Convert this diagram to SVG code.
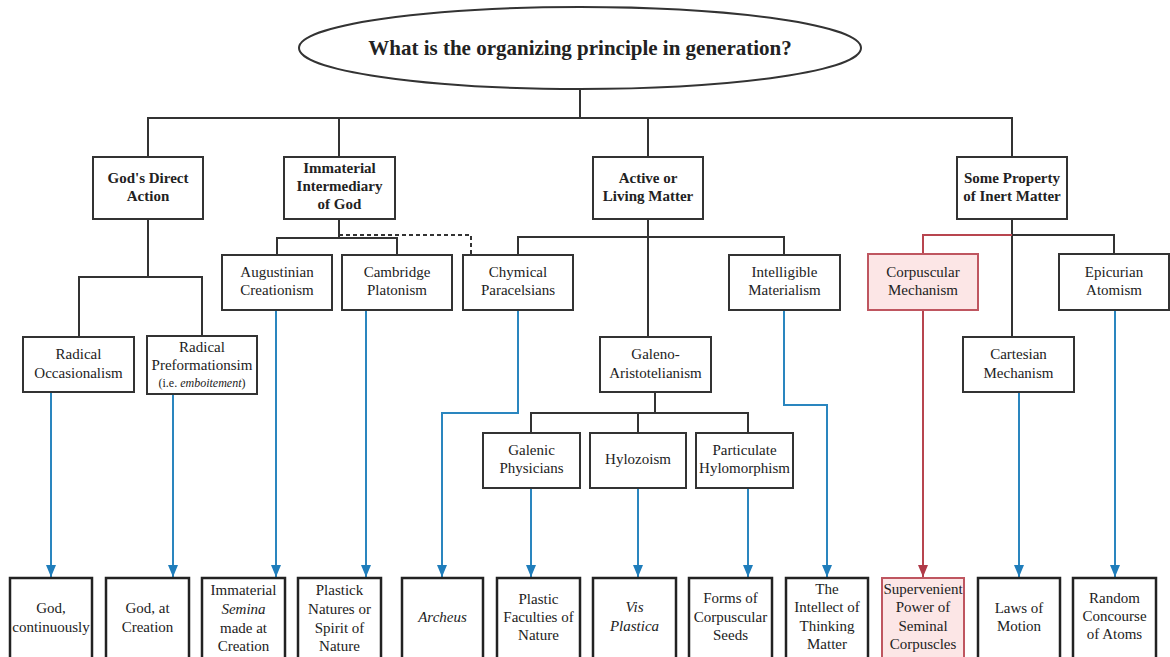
<svg xmlns="http://www.w3.org/2000/svg" width="1170" height="657" viewBox="0 0 1170 657">
<defs>
<style>
text{font-family:"Liberation Serif","Times New Roman",serif;font-size:15px;fill:#222;text-anchor:middle}
.b{font-weight:bold}
.t{font-size:21px;font-weight:bold}
.s{font-size:12px}
.box{fill:#fff;stroke:#333;stroke-width:2}
.pbox{fill:#fce6e6;stroke:#bf5660;stroke-width:2}
.bbox{fill:#fff;stroke:#222;stroke-width:2.5}
.k{fill:none;stroke:#333;stroke-width:2}
.d{fill:none;stroke:#333;stroke-width:2;stroke-dasharray:4 3}
.bl{fill:none;stroke:#2a86bf;stroke-width:2;marker-end:url(#ab)}
.rd{fill:none;stroke:#b8454f;stroke-width:2}
.rda{fill:none;stroke:#b8454f;stroke-width:2;marker-end:url(#ar)}
</style>
<marker id="ab" viewBox="0 0 12 10" refX="12" refY="5" markerWidth="12" markerHeight="10" markerUnits="userSpaceOnUse" orient="auto"><path d="M0,0 L12,5 L0,10 z" fill="#1f7dbb"/></marker>
<marker id="ar" viewBox="0 0 12 10" refX="12" refY="5" markerWidth="12" markerHeight="10" markerUnits="userSpaceOnUse" orient="auto"><path d="M0,0 L12,5 L0,10 z" fill="#b03a48"/></marker>
</defs>
<rect width="1170" height="657" fill="#fff"/>

<g id="connectors">
<path class="k" d="M580,89 V118 M148,157 V118 H1012 V157 M339,118 V157 M648,118 V157"/>
<path class="k" d="M148,219 V277 M79,337 V277 H202 V336"/>
<path class="k" d="M339,219 V238 M277,255 V238 H397 V255"/>
<path class="d" d="M339,235 H471 V255"/>
<path class="k" d="M648,219 V337 M518,255 V237 H784 V255"/>
<path class="k" d="M655,392 V413 M531,433 V413 H748 V433 M638,413 V433"/>
<path class="k" d="M1012,219 V337 M1012,235 H1114 V254"/>
<path class="rd" d="M923,254 V235 H1012"/>
<path class="bl" d="M51,392 V577"/>
<path class="bl" d="M173,394 V577"/>
<path class="bl" d="M276,310 V577"/>
<path class="bl" d="M366,310 V577"/>
<path class="bl" d="M518,310 V413 H442 V577"/>
<path class="bl" d="M531,488 V577"/>
<path class="bl" d="M638,488 V577"/>
<path class="bl" d="M748,488 V577"/>
<path class="bl" d="M784,310 V405 H827 V577"/>
<path class="rda" d="M923,310 V577"/>
<path class="bl" d="M1019,392 V577"/>
<path class="bl" d="M1115,310 V577"/>
</g>

<g id="title">
<ellipse cx="580" cy="48" rx="281" ry="41" fill="#fff" stroke="#333" stroke-width="2"/>
<text class="t" x="580" y="55">What is the organizing principle in generation?</text>
</g>

<g id="gods-direct-action"><rect class="box" x="93" y="157" width="110" height="62"/>
<text class="b" x="148" y="183">God's Direct</text><text class="b" x="148" y="201">Action</text></g>
<g id="immaterial-intermediary"><rect class="box" x="284" y="157" width="111" height="62"/>
<text class="b" x="339.5" y="173">Immaterial</text><text class="b" x="339.5" y="191">Intermediary</text><text class="b" x="339.5" y="209">of God</text></g>
<g id="active-living-matter"><rect class="box" x="593" y="157" width="110" height="62"/>
<text class="b" x="648" y="183">Active or</text><text class="b" x="648" y="201">Living Matter</text></g>
<g id="inert-matter"><rect class="box" x="957" y="157" width="110" height="62"/>
<text class="b" x="1012" y="183">Some Property</text><text class="b" x="1012" y="201">of Inert Matter</text></g>

<g id="radical-occasionalism"><rect class="box" x="23" y="337" width="111" height="55"/>
<text x="78.5" y="359">Radical</text><text x="78.5" y="378">Occasionalism</text></g>
<g id="radical-preformationism"><rect class="box" x="147" y="336" width="110" height="58"/>
<text x="202" y="352">Radical</text><text x="202" y="370">Preformationsim</text><text class="s" x="202" y="387">(i.e. <tspan font-style="italic">emboitement</tspan>)</text></g>
<g id="augustinian-creationism"><rect class="box" x="222" y="255" width="110" height="55"/>
<text x="277" y="277">Augustinian</text><text x="277" y="295">Creationism</text></g>
<g id="cambridge-platonism"><rect class="box" x="342" y="255" width="110" height="55"/>
<text x="397" y="277">Cambridge</text><text x="397" y="295">Platonism</text></g>
<g id="chymical-paracelsians"><rect class="box" x="463" y="255" width="110" height="55"/>
<text x="518" y="277">Chymical</text><text x="518" y="295">Paracelsians</text></g>
<g id="intelligible-materialism"><rect class="box" x="729" y="255" width="111" height="55"/>
<text x="784.5" y="277">Intelligible</text><text x="784.5" y="295">Materialism</text></g>
<g id="galeno-aristotelianism"><rect class="box" x="600" y="337" width="111" height="55"/>
<text x="655.5" y="359">Galeno-</text><text x="655.5" y="378">Aristotelianism</text></g>
<g id="galenic-physicians"><rect class="box" x="483" y="433" width="97" height="55"/>
<text x="531.5" y="455">Galenic</text><text x="531.5" y="473">Physicians</text></g>
<g id="hylozoism"><rect class="box" x="590" y="433" width="96" height="55"/>
<text x="638" y="464">Hylozoism</text></g>
<g id="particulate-hylomorphism"><rect class="box" x="696" y="433" width="97" height="55"/>
<text x="744.5" y="455">Particulate</text><text x="744.5" y="473">Hylomorphism</text></g>
<g id="corpuscular-mechanism"><rect class="pbox" x="868" y="254" width="110" height="56"/>
<text x="923" y="277">Corpuscular</text><text x="923" y="295">Mechanism</text></g>
<g id="cartesian-mechanism"><rect class="box" x="963" y="337" width="111" height="55"/>
<text x="1018.5" y="359">Cartesian</text><text x="1018.5" y="378">Mechanism</text></g>
<g id="epicurian-atomism"><rect class="box" x="1059" y="254" width="110" height="56"/>
<text x="1114" y="277">Epicurian</text><text x="1114" y="295">Atomism</text></g>

<g id="god-continuously"><rect class="bbox" x="10" y="578" width="82" height="95"/>
<text x="51" y="613">God,</text><text x="51" y="632">continuously</text></g>
<g id="god-at-creation"><rect class="bbox" x="106" y="578" width="83" height="95"/>
<text x="147.5" y="613">God, at</text><text x="147.5" y="632">Creation</text></g>
<g id="immaterial-semina"><rect class="bbox" x="202" y="578" width="83" height="95"/>
<text x="243.5" y="595">Immaterial</text><text x="243.5" y="614" font-style="italic">Semina</text><text x="243.5" y="633">made at</text><text x="243.5" y="651">Creation</text></g>
<g id="plastick-natures"><rect class="bbox" x="298" y="578" width="83" height="95"/>
<text x="339.5" y="595">Plastick</text><text x="339.5" y="614">Natures or</text><text x="339.5" y="633">Spirit of</text><text x="339.5" y="651">Nature</text></g>
<g id="archeus"><rect class="bbox" x="402" y="578" width="81" height="95"/>
<text x="442.5" y="622" font-style="italic">Archeus</text></g>
<g id="plastic-faculties"><rect class="bbox" x="497" y="578" width="83" height="95"/>
<text x="538.5" y="604">Plastic</text><text x="538.5" y="622">Faculties of</text><text x="538.5" y="640">Nature</text></g>
<g id="vis-plastica"><rect class="bbox" x="593" y="578" width="83" height="95"/>
<text x="634.5" y="612" font-style="italic">Vis</text><text x="634.5" y="631" font-style="italic">Plastica</text></g>
<g id="forms-corpuscular-seeds"><rect class="bbox" x="689" y="578" width="83" height="95"/>
<text x="730.5" y="603">Forms of</text><text x="730.5" y="622">Corpuscular</text><text x="730.5" y="640">Seeds</text></g>
<g id="intellect-thinking-matter"><rect class="bbox" x="786" y="578" width="82" height="95"/>
<text x="827" y="594">The</text><text x="827" y="612">Intellect of</text><text x="827" y="631">Thinking</text><text x="827" y="649">Matter</text></g>
<g id="supervenient-power"><rect class="pbox" x="882" y="578" width="82" height="95"/>
<text x="923" y="594">Supervenient</text><text x="923" y="612">Power of</text><text x="923" y="631">Seminal</text><text x="923" y="649">Corpuscles</text></g>
<g id="laws-of-motion"><rect class="bbox" x="978" y="578" width="82" height="95"/>
<text x="1019" y="613">Laws of</text><text x="1019" y="631">Motion</text></g>
<g id="random-concourse"><rect class="bbox" x="1073" y="578" width="83" height="95"/>
<text x="1114.5" y="603">Random</text><text x="1114.5" y="621">Concourse</text><text x="1114.5" y="639">of Atoms</text></g>
</svg>
